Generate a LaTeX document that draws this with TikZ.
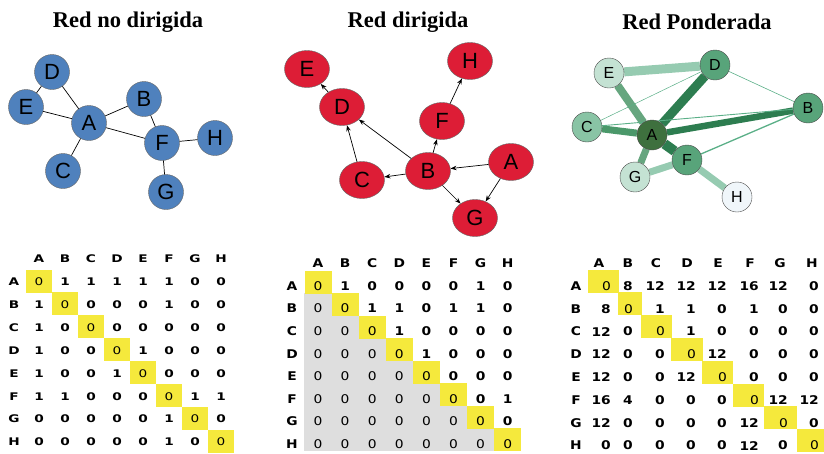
\documentclass[tikz,border=0pt]{standalone}
\usepackage{fontspec}
\setmainfont{Liberation Serif}
\setsansfont{Liberation Sans}
\newfontfamily\matfont[FakeStretch=1.15]{DejaVu Sans}
\newfontfamily\matwide[FakeStretch=1.3]{DejaVu Sans}
\usetikzlibrary{shapes.geometric,arrows.meta}

\definecolor{nodeblue}{RGB}{79,129,189}
\definecolor{nodered}{RGB}{221,29,54}
\definecolor{cellyellow}{RGB}{245,233,60}
\definecolor{cellgray}{RGB}{222,222,222}
% greens of the weighted net
\definecolor{gA}{RGB}{62,112,62}
\definecolor{gMid}{RGB}{88,164,122}
\definecolor{gC}{RGB}{137,196,165}
\definecolor{gLight}{RGB}{196,226,211}
\definecolor{gH}{RGB}{240,246,250}
\definecolor{eDark}{RGB}{45,125,80}
\definecolor{eMid}{RGB}{75,152,106}
\definecolor{eSoft}{RGB}{102,166,127}
\definecolor{eLight}{RGB}{150,203,177}
\definecolor{eThin}{RGB}{90,175,135}

\pgfdeclarelayer{background}
\pgfsetlayers{background,main}

\begin{document}
\begin{tikzpicture}[x=1pt,y=-1pt,>={Stealth[length=6pt,width=4.5pt]},
  title/.style={font=\bfseries\fontsize{22.5}{26}\selectfont},
  unode/.style={circle,draw=black!60,fill=nodeblue,minimum size=35pt,inner sep=0pt,
    font=\sffamily\fontsize{22}{22}\selectfont},
  dnode/.style={ellipse,draw=black!60,fill=nodered,minimum width=45pt,minimum height=37pt,
    inner sep=0pt,font=\sffamily\fontsize{22}{22}\selectfont},
  wnode/.style={circle,draw=black!70,minimum size=30pt,inner sep=0pt,
    font=\sffamily\fontsize{16}{16}\selectfont},
  link/.style={black,line width=0.7pt},
  mlab/.style={inner sep=0pt,font=\matwide\bfseries\fontsize{10.5}{10.5}\selectfont},
  mbig/.style={inner sep=0pt,font=\matfont\bfseries\fontsize{12}{12}\selectfont}]

\useasboundingbox (0,0) rectangle (824,453);

% Titles
\node[title] (t1) at (128,22) {Red no dirigida};
\node[title] (t2) at (408,22) {Red dirigida};
\node[title] (t3) at (697,22) {Red Ponderada};

% Undirected net
\node[unode] (uD) at (52,72) {D};
\node[unode] (uE) at (26,107) {E};
\node[unode] (uA) at (89,123) {A};
\node[unode] (uB) at (144,99) {B};
\node[unode] (uF) at (162,143) {F};
\node[unode] (uH) at (215,138) {H};
\node[unode] (uC) at (63,171) {C};
\node[unode] (uG) at (166,192) {G};
\draw[link] (uD) -- (uE);
\draw[link] (uD) -- (uA);
\draw[link] (uE) -- (uA);
\draw[link] (uA) -- (uC);
\draw[link] (uA) -- (uB);
\draw[link] (uA) -- (uF);
\draw[link] (uB) -- (uF);
\draw[link] (uF) -- (uH);
\draw[link] (uF) -- (uG);

% Directed net
\node[dnode] (dE) at (307,69) {E};
\node[dnode] (dD) at (342,107) {D};
\node[dnode] (dH) at (470,61) {H};
\node[dnode] (dF) at (442,121) {F};
\node[dnode] (dB) at (428,171) {B};
\node[dnode] (dA) at (511,162) {A};
\node[dnode] (dC) at (362,180) {C};
\node[dnode] (dG) at (475,218) {G};
\draw[link,->] (dD) -- (dE);
\draw[link,->] (dC) -- (dD);
\draw[link,->] (dB) -- (dD);
\draw[link,->] (dB) -- (dF);
\draw[link,->] (dF) -- (dH);
\draw[link,->] (dB) -- (dC);
\draw[link,->] (dA) -- (dB);
\draw[link,->] (dB) -- (dG);
\draw[link,->] (dA) -- (dG);

% Weighted net
\node[wnode,fill=gLight] (wE) at (609,73) {E};
\node[wnode,fill=gMid] (wD) at (715,65) {D};
\node[wnode,fill=gMid] (wB) at (808,108) {B};
\node[wnode,fill=gC] (wC) at (587,127) {C};
\node[wnode,fill=gA] (wA) at (652,135) {A};
\node[wnode,fill=gMid] (wF) at (687,160) {F};
\node[wnode,fill=gLight] (wG) at (635,177) {G};
\node[wnode,fill=gH] (wH) at (737,197) {H};
\begin{pgfonlayer}{background}
\draw[eLight,line width=9pt] (wE) -- (wD);
\draw[eLight,line width=7pt] (wF) -- (wG);
\draw[eLight,line width=7pt] (wF) -- (wH);
\draw[eSoft,line width=8pt] (wA) -- (wE);
\draw[eSoft,line width=7pt] (wA) -- (wG);
\draw[eMid,line width=7pt] (wA) -- (wC);
\draw[eDark,line width=9pt] (wA) -- (wD);
\draw[eDark,line width=6.5pt] (wA) -- (wB);
\draw[eDark,line width=10pt] (wA) -- (wF);
\draw[eThin,line width=0.6pt] (wB) -- (wD);
\draw[eThin,line width=0.5pt] (wC) -- (wD);
\draw[eThin,line width=0.9pt] (wB) -- (wC);
\draw[eThin,line width=1.3pt] (wB) -- (wF);
\end{pgfonlayer}

% Matrix of the undirected net
\foreach \k in {1,...,8}
  \fill[cellyellow] ({39+26*(\k-1)-13},{281+22.86*(\k-1)-11.5}) rectangle ++(26,23);
\foreach \lab [count=\j] in {A,B,C,D,E,F,G,H}{
  \node[mlab] (h1-\j) at ({39+26*(\j-1)},259) {\lab};
  \node[mlab] (r1-\j) at (14,{282+22.86*(\j-1)}) {\lab};
}
\foreach \row [count=\i] in {{0,1,1,1,1,1,0,0},{1,0,0,0,0,1,0,0},{1,0,0,0,0,0,0,0},
    {1,0,0,0,1,0,0,0},{1,0,0,1,0,0,0,0},{1,1,0,0,0,0,1,1},{0,0,0,0,0,1,0,0},
    {0,0,0,0,0,1,0,0}}{
  \foreach \v [count=\j] in \row
    \node[mlab] (m1-\i-\j) at ({39+26*(\j-1)},{282+22.86*(\i-1)}) {\ifnum\i=\j\mdseries\fi\v};
}

% Matrix of the directed net
\foreach \i in {2,...,8}
  \foreach \j in {1,...,\i}
    \fill[cellgray] ({318+27.1*(\j-1)-13.6},{282+22.57*(\i-1)-11.3}) rectangle ++(27.2,22.7);
\foreach \k in {1,...,8}
  \fill[cellyellow] ({318+27.1*(\k-1)-13.5},{282+22.57*(\k-1)-11.5}) rectangle ++(27,23);
\foreach \lab [count=\j] in {A,B,C,D,E,F,G,H}{
  \node[mbig] (h2-\j) at ({318+27.1*(\j-1)},263) {\lab};
  \node[mbig] (r2-\j) at (292,{286+22.57*(\j-1)}) {\lab};
}
\foreach \row [count=\i] in {{0,1,0,0,0,0,1,0},{0,0,1,1,0,1,1,0},{0,0,0,1,0,0,0,0},
    {0,0,0,0,1,0,0,0},{0,0,0,0,0,0,0,0},{0,0,0,0,0,0,0,1},{0,0,0,0,0,0,0,0},
    {0,0,0,0,0,0,0,0}}{
  \foreach \v [count=\j] in \row
    \node[mbig] (m2-\i-\j) at ({318+27.1*(\j-1)},{286+22.57*(\i-1)}) {\ifnum\j>\i\else\mdseries\fi\v};
}

% Matrix of the weighted net
\foreach \l/\r [count=\k] in {588/619,618/642,641/672,671/703,702/733,733/764,764/797,797/826}
  \fill[cellyellow] (\l,{281+22.8*(\k-1)-11.5}) rectangle (\r,{281+22.8*(\k-1)+11.5});
\foreach \lab/\hx [count=\j] in {A/599,B/628,C/656,D/687,E/718,F/750,G/780,H/812}{
  \node[mbig] (h3-\j) at (\hx,263) {\lab};
  \node[mbig] (r3-\j) at (576,{286+22.8*(\j-1)}) {\lab};
}
\foreach \row [count=\i] in {{0,8,12,12,12,16,12,0},{8,0,1,1,0,1,0,0},{12,0,0,1,0,0,0,0},
    {12,0,0,0,12,0,0,0},{12,0,0,12,0,0,0,0},{16,4,0,0,0,0,12,12},{12,0,0,0,0,12,0,0},
    {0,0,0,0,0,12,0,0}}{
  \foreach \v [count=\j] in \row {
    \pgfmathsetmacro\rx{{611,633,665,696,727,759,788,819}[\j-1]}
    \node[mbig,anchor=east] (m3-\i-\j) at (\rx,{286+22.8*(\i-1)}) {\ifnum\i=\j\mdseries\fi\v};
  }
}

\end{tikzpicture}
\end{document}
